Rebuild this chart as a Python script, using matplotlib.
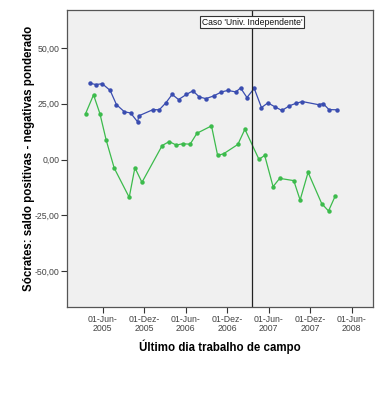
import matplotlib
matplotlib.use('Agg')
import matplotlib.pyplot as plt
from datetime import datetime

# survey end dates and weighted balance (positive - negative) for Sócrates
blue_dates = ['2005-04-06', '2005-05-03', '2005-05-30', '2005-07-04', '2005-08-01', '2005-09-05',
              '2005-10-02', '2005-11-02', '2005-11-07', '2006-01-09', '2006-02-05', '2006-03-06',
              '2006-04-03', '2006-05-01', '2006-06-05', '2006-07-03', '2006-07-31', '2006-08-29',
              '2006-10-02', '2006-11-06', '2006-12-04', '2007-01-08', '2007-01-29', '2007-02-26',
              '2007-03-30', '2007-05-01', '2007-05-29', '2007-06-30', '2007-07-30', '2007-09-01',
              '2007-09-29', '2007-10-28', '2008-01-07', '2008-01-27', '2008-02-22', '2008-03-29']
blue_vals = [34.2, 33.6, 34.0, 31.0, 24.6, 21.4, 20.9, 16.9, 19.6, 22.4, 22.3, 25.4,
             29.2, 26.9, 29.2, 30.8, 28.1, 27.3, 28.5, 30.3, 31.0, 30.3, 32.1, 27.8,
             31.9, 23.3, 25.4, 23.6, 22.0, 24.1, 25.2, 26.0, 24.6, 25.1, 22.4, 22.3]

green_dates = ['2005-03-18', '2005-04-22', '2005-05-20', '2005-06-17', '2005-07-22', '2005-09-26',
               '2005-10-21', '2005-11-21', '2006-02-18', '2006-03-21', '2006-04-21', '2006-05-19',
               '2006-06-21', '2006-07-21', '2006-09-23', '2006-10-20', '2006-11-15', '2007-01-17',
               '2007-02-17', '2007-04-20', '2007-05-15', '2007-06-21', '2007-07-20', '2007-09-20',
               '2007-10-18', '2007-11-22', '2008-01-21', '2008-02-20', '2008-03-20']
green_vals = [20.6, 29.0, 20.6, 8.6, -3.8, -16.9, -3.6, -10.2, 6.3, 8.1, 6.5, 7.1,
              6.9, 11.8, 15.1, 1.9, 2.6, 6.8, 13.6, 0.1, 1.9, -12.1, -8.4, -9.4,
              -18.1, -5.7, -19.7, -23.0, -16.4]

event_date = '2007-03-20'
event_label = "Caso 'Univ. Independente'"

xtick_dates = ['2005-06-01', '2005-12-01', '2006-06-01', '2006-12-01', '2007-06-01', '2007-12-01', '2008-06-01']
xtick_labels = ['01-Jun-\n2005', '01-Dez-\n2005', '01-Jun-\n2006', '01-Dez-\n2006',
                '01-Jun-\n2007', '01-Dez-\n2007', '01-Jun-\n2008']
ytick_vals = [-50, -25, 0, 25, 50]
ytick_labels = ['-50,00', '-25,00', '0,00', '25,00', '50,00']


def to_dt(lst):
    return [datetime.strptime(s, '%Y-%m-%d') for s in lst]


fig = plt.figure(figsize=(3.87, 4.0), dpi=100)
ax = fig.add_axes([0.173, 0.2325, 0.791, 0.7425])
ax.set_facecolor('#f0f0f0')

ax.plot(to_dt(blue_dates), blue_vals, '-o', color='#3a4db0', lw=0.9, ms=3.2, mew=0)
ax.plot(to_dt(green_dates), green_vals, '-o', color='#3cbb4c', lw=0.9, ms=3.2, mew=0)

ev = datetime.strptime(event_date, '%Y-%m-%d')
ax.axvline(ev, color='#222222', lw=0.9)
ax.text(ev, 61.5, event_label, ha='center', va='center', fontsize=6.2, family='Liberation Sans',
        color='#111111', bbox=dict(boxstyle='square,pad=0.15', fc='white', ec='#333333', lw=0.8))

ax.set_xlim(datetime(2004, 12, 26), datetime(2008, 9, 3))
ax.set_ylim(-66, 67)
ax.set_xticks(to_dt(xtick_dates))
ax.set_xticklabels(xtick_labels, fontsize=6.3, color='#444444', family='Liberation Sans', linespacing=1.0)
ax.set_yticks(ytick_vals)
ax.set_yticklabels(ytick_labels, fontsize=6.3, color='#444444', family='Liberation Sans')
ax.tick_params(axis='both', length=4, width=0.8, color='#333333', pad=1.5)

for s in ax.spines.values():
    s.set_color('#555555')
    s.set_linewidth(0.9)

ax.set_xlabel('Último dia trabalho de campo', fontsize=8.3, fontweight='bold',
              family='Liberation Sans', labelpad=5)
ax.set_ylabel('Sócrates: saldo positivas - negativas ponderado', fontsize=8.3, fontweight='bold',
              family='Liberation Sans', labelpad=-0.5)

plt.savefig('out.png', dpi=100)
